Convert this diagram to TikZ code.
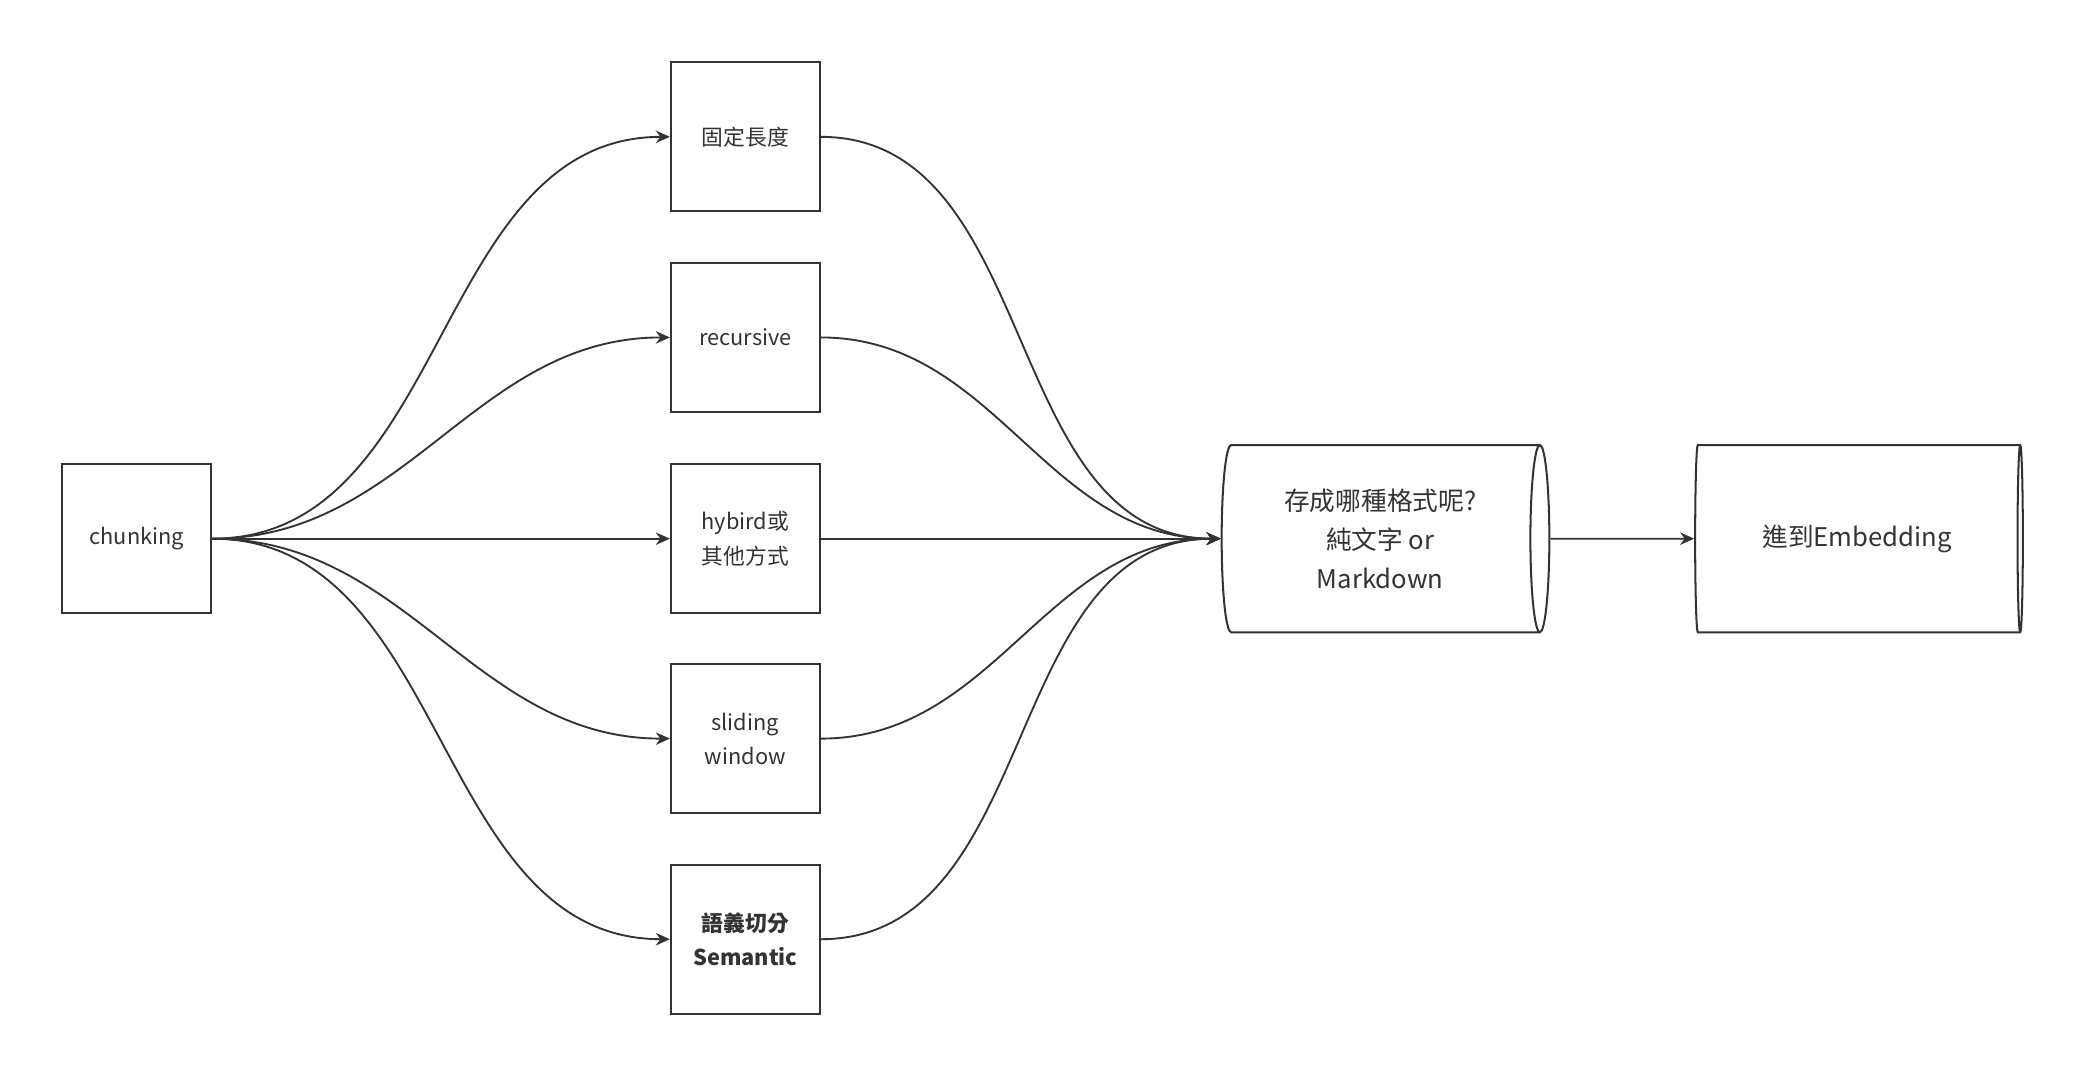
\documentclass[tikz,border=0pt]{standalone}
\usepackage{fontspec}
\setmainfont{Noto Sans CJK TC}
\usetikzlibrary{shapes.geometric,arrows.meta}
\definecolor{ink}{HTML}{333333}
\begin{document}
\begin{tikzpicture}[x=0.03cm,y=-0.03cm,
  box/.style={draw=ink,line width=1.3pt,minimum width=3.36cm,minimum height=3.36cm,inner sep=0pt,align=center,text=ink,font=\fontsize{14}{22}\selectfont},
  cyl/.style={draw=ink,line width=1.3pt,cylinder,shape aspect=0.19,minimum width=4.23cm,minimum height=7.4cm,inner sep=0pt,align=center,text=ink,font=\fontsize{16.5}{25}\selectfont},
  arr/.style={draw=ink,line width=1.2pt,-{Stealth[length=9pt,width=8pt]}},
  ln/.style={draw=ink,line width=1.2pt}]
\useasboundingbox (0,0) rectangle (1568,812);
\node[box] (c) at (103,405.5) {chunking};
\node[box] (a1) at (561,103) {固定長度};
\node[box] (a2) at (561,254) {recursive};
\node[box] (a3) at (561,405.5) {hybird或\\其他方式};
\node[box] (a4) at (561,556) {sliding\\window};
\node[box] (a5) at (561,707) {\bfseries 語義切分\\\bfseries Semantic};
\node[cyl] (s) at (1039,405.5) {存成哪種格式呢?\\純文字 or\\Markdown};
\node[cyl] (e) at (1398,405.5) {進到Embedding};
\foreach \n in {a1,a2,a4,a5}{
  \draw[arr] (c.east) to[out=0,in=180,looseness=1] (\n.west);
  \draw[arr] (\n.east) to[out=0,in=180,looseness=1] (s.west);
}
\draw[arr] (c.east) -- (a3.west);
\draw[arr] (a3.east) -- (s.west);
\draw[arr] (s.east) -- (e.west);
\end{tikzpicture}
\end{document}
